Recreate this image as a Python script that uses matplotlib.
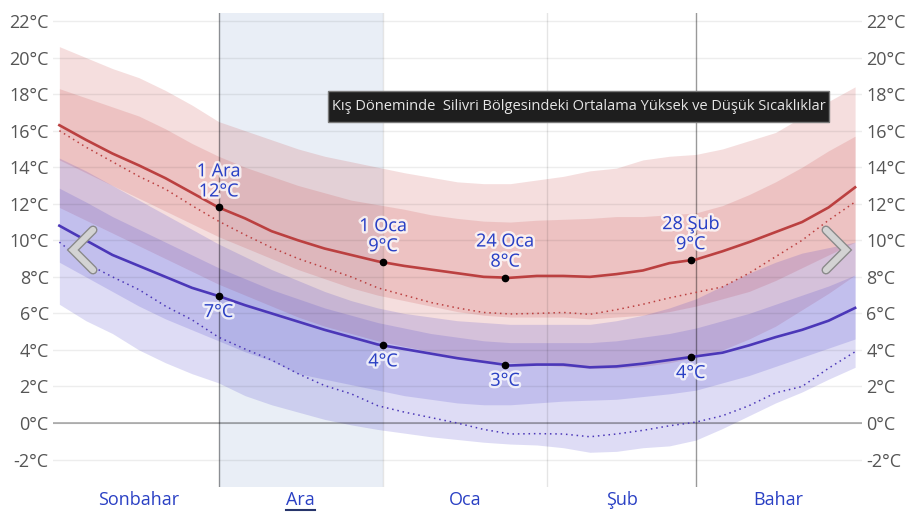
import matplotlib.pyplot as plt
import matplotlib.patheffects as pe
from matplotlib.patches import Rectangle
from matplotlib.lines import Line2D
import numpy as np

plt.rcParams['font.family'] = ['Open Sans', 'DejaVu Sans']

# days counted from 1 Nov, one sample every 5 days
days = list(range(0, 151, 5))

hi_p90 = [20.6, 20.0, 19.4, 18.9, 18.2, 17.4, 16.5, 16.0, 15.5, 15.0, 14.6, 14.3, 14.0, 13.7, 13.45, 13.2,
          13.1, 13.1, 13.3, 13.5, 13.8, 13.95, 14.4, 14.6, 14.7, 15.0, 15.45, 15.9, 16.75, 17.6, 18.4]
hi_p75 = [18.3, 17.8, 17.3, 16.8, 16.1, 15.3, 14.6, 14.0, 13.5, 13.0, 12.6, 12.2, 11.95, 11.7, 11.4, 11.2,
          11.05, 11.0, 11.1, 11.15, 11.2, 11.3, 11.3, 11.4, 11.5, 11.9, 12.5, 13.2, 14.0, 14.9, 15.7]
hi_mean = [16.3, 15.5, 14.75, 14.1, 13.4, 12.6, 11.8, 11.2, 10.5, 10.0, 9.55, 9.2, 8.85, 8.6, 8.4, 8.2,
           8.0, 7.95, 8.05, 8.05, 8.0, 8.15, 8.35, 8.75, 8.95, 9.4, 9.9, 10.45, 11.0, 11.8, 12.9]
hi_p25 = [14.4, 13.7, 13.0, 12.3, 11.6, 10.9, 10.2, 9.6, 9.0, 8.4, 7.9, 7.4, 7.0, 6.7, 6.4, 6.1,
          5.9, 5.8, 5.8, 5.8, 5.7, 5.8, 5.9, 6.1, 6.4, 6.8, 7.2, 7.8, 8.5, 9.2, 9.9]
hi_p10 = [11.8, 11.1, 10.4, 9.7, 9.0, 8.3, 7.6, 7.0, 6.4, 5.8, 5.3, 4.9, 4.5, 4.2, 3.9, 3.6,
          3.4, 3.3, 3.2, 3.1, 3.0, 3.0, 3.1, 3.3, 3.6, 4.0, 4.6, 5.3, 6.2, 7.1, 8.1]
hi_feel = [16.0, 15.1, 14.3, 13.5, 12.8, 11.9, 11.05, 10.3, 9.6, 9.0, 8.5, 8.0, 7.4, 7.0, 6.6, 6.3,
           6.05, 5.97, 6.0, 6.05, 5.95, 6.2, 6.5, 6.85, 7.15, 7.45, 8.2, 9.1, 10.0, 11.1, 12.1]

lo_p90 = [14.5, 13.8, 13.0, 12.2, 11.4, 10.6, 9.8, 9.1, 8.4, 7.8, 7.2, 6.7, 6.3, 6.0, 5.8, 5.6,
          5.5, 5.4, 5.4, 5.4, 5.4, 5.6, 5.9, 6.3, 6.8, 7.5, 8.2, 8.8, 9.3, 9.6, 9.9]
lo_p75 = [12.85, 12.1, 11.3, 10.6, 9.9, 9.2, 8.5, 7.9, 7.3, 6.8, 6.3, 5.9, 5.5, 5.2, 4.9, 4.7,
          4.5, 4.4, 4.4, 4.4, 4.4, 4.5, 4.7, 4.9, 5.2, 5.6, 6.0, 6.5, 7.0, 7.5, 8.1]
lo_mean = [10.8, 10.0, 9.2, 8.6, 8.0, 7.4, 6.95, 6.45, 6.0, 5.55, 5.1, 4.7, 4.3, 4.05, 3.8, 3.55,
           3.35, 3.15, 3.2, 3.2, 3.05, 3.1, 3.25, 3.45, 3.65, 3.85, 4.25, 4.7, 5.1, 5.6, 6.3]
lo_p25 = [8.8, 8.0, 7.2, 6.4, 5.7, 5.1, 4.5, 3.9, 3.4, 2.7, 2.4, 2.1, 1.8, 1.5, 1.3, 1.1,
          1.0, 1.0, 1.1, 1.2, 1.25, 1.3, 1.45, 1.6, 1.8, 2.2, 2.6, 3.1, 3.6, 4.1, 4.6]
lo_p10 = [6.5, 5.6, 4.9, 4.0, 3.3, 2.7, 2.2, 1.5, 1.0, 0.6, 0.2, -0.1, -0.35, -0.55, -0.75, -0.9,
          -1.05, -1.15, -1.2, -1.35, -1.6, -1.55, -1.35, -1.25, -0.93, -0.3, 0.4, 1.1, 1.7, 2.4, 3.05]
lo_feel = [9.9, 8.75, 8.0, 7.3, 6.4, 5.65, 4.7, 4.05, 3.45, 2.7, 2.05, 1.6, 0.95, 0.6, 0.3, 0.0,
           -0.35, -0.6, -0.58, -0.6, -0.75, -0.6, -0.4, -0.15, 0.05, 0.4, 0.95, 1.65, 2.0, 3.0, 3.9]

month_edges = [0, 30, 61, 92, 120, 151]
month_names = ["Sonbahar", "Ara", "Oca", "Şub", "Bahar"]
mark_days = [30, 61, 84, 119]
mark_names = ["1 Ara", "1 Oca", "24 Oca", "28 Şub"]
yticks = list(range(-2, 23, 2))
title = "Kış Döneminde  Silivri Bölgesindeki Ortalama Yüksek ve Düşük Sıcaklıklar"

red = (0.78, 0.24, 0.24)
blue = (0.24, 0.2, 0.78)
line_red = "#bb4040"
line_blue = "#4b37b8"
txt_blue = "#2a40c4"

fig = plt.figure(figsize=(9.24, 5.2), dpi=100)
ax = fig.add_axes([53 / 924, 33 / 520, 809 / 924, 474 / 520])
ax.set_xlim(-1.2, 151.3)
ax.set_ylim(-3.5, 22.44)

# selected month
ax.axvspan(month_edges[1], month_edges[2], color="#e9eef6", zorder=0, lw=0)

for y in yticks:
    ax.axhline(y, color="black", alpha=0.07, lw=1, zorder=3)
ax.axhline(0, color="black", alpha=0.3, lw=1.3, zorder=3)

ax.fill_between(days, hi_p10, hi_p90, color=red, alpha=0.17, lw=0, zorder=1)
ax.fill_between(days, hi_p25, hi_p75, color=red, alpha=0.17, lw=0, zorder=1)
ax.fill_between(days, lo_p10, lo_p90, color=blue, alpha=0.17, lw=0, zorder=1)
ax.fill_between(days, lo_p25, lo_p75, color=blue, alpha=0.17, lw=0, zorder=1)

for i, m in enumerate(month_edges[1:-1]):
    strong = m in (month_edges[1], month_edges[4])
    ax.axvline(m, color="black", alpha=0.4 if strong else 0.1, lw=1, zorder=3)

ax.plot(days, hi_feel, color=line_red, lw=1.1, ls=(0, (1, 2.5)), zorder=4)
ax.plot(days, lo_feel, color=line_blue, lw=1.1, ls=(0, (1, 2.5)), zorder=4)
ax.plot(days, hi_mean, color=line_red, lw=1.9, zorder=5)
ax.plot(days, lo_mean, color=line_blue, lw=1.9, zorder=5)

halo = [pe.withStroke(linewidth=3.5, foreground=(1, 1, 1, 0.75))]
for d, name in zip(mark_days, mark_names):
    h = float(np.interp(d, days, hi_mean))
    l = float(np.interp(d, days, lo_mean))
    ax.plot([d, d], [h, l], "o", color="black", ms=4.5, ls="none", zorder=6)
    ax.annotate(f"{name}\n{round(h)}°C", (d, h), xytext=(0, 7), textcoords="offset pixels",
                ha="center", va="bottom", fontsize=13, color=txt_blue, linespacing=1.15,
                path_effects=halo, zorder=7)
    ax.annotate(f"{round(l)}°C", (d, l), xytext=(0, -7), textcoords="offset pixels",
                ha="center", va="top", fontsize=13, color=txt_blue, path_effects=halo, zorder=7)

ax.set_yticks(yticks)
ax.set_yticklabels([f"{y}°C" for y in yticks])
ax.tick_params(axis="y", length=0, pad=3, labelsize=13, labelcolor="#555555",
               left=True, right=True, labelleft=True, labelright=True)
ax.set_xticks([])
for s in ax.spines.values():
    s.set_visible(False)

trans = ax.get_xaxis_transform()
month_texts = []
for a, b, name in zip(month_edges[:-1], month_edges[1:], month_names):
    t = ax.text((a + b) / 2, -13 / 474, name, transform=trans, ha="center", va="center",
                fontsize=13, color=txt_blue)
    month_texts.append(t)

# underline for the selected month
r = fig.canvas.get_renderer()
bb = month_texts[1].get_window_extent(r)
fig.add_artist(Line2D([bb.x0 / 924, bb.x1 / 924], [(bb.y0 - 1) / 520, (bb.y0 - 1) / 520],
                      transform=fig.transFigure, color="#27356b", lw=1.5))

# title box
fig.add_artist(Rectangle((328 / 924, 398 / 520), 501 / 924, 31 / 520, transform=fig.transFigure,
                         facecolor="#1e1e1e", edgecolor="#7a7a7a", lw=1, zorder=10))
fig.text(578.5 / 924, 1 - 106.5 / 520, title, ha="center", va="center", fontsize=10.5,
         color="#e6e6e6", zorder=11)

# carousel arrows
for pts in ([(93, 230), (73, 250), (93, 270)], [(826, 230), (846, 250), (826, 270)]):
    xs = [p[0] / 924 for p in pts]
    ys = [1 - p[1] / 520 for p in pts]
    fig.add_artist(Line2D(xs, ys, transform=fig.transFigure, color="#dcdcdc", lw=4.5,
                          solid_capstyle="round", solid_joinstyle="miter", alpha=0.9,
                          path_effects=[pe.Stroke(linewidth=6.5, foreground="#8a8a8a"), pe.Normal()]))

fig.savefig("out.png", dpi=100)
